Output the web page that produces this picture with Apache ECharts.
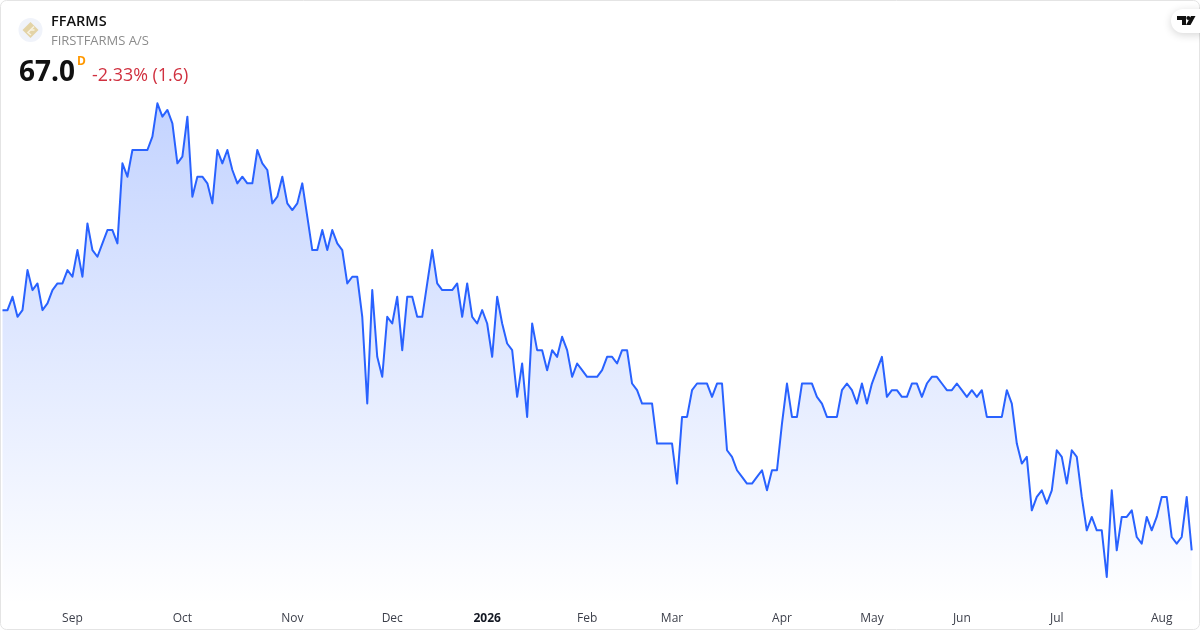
<!DOCTYPE html>
<html><head><meta charset="utf-8">
<style>html,body{margin:0;padding:0;background:#fff}#c{width:1200px;height:630px}</style>
<script src="https://cdn.jsdelivr.net/npm/echarts@6/dist/echarts.min.js"></script>
</head><body><div id="c"></div>
<script>
var prices = [
74.2,74.2,74.6,74.0,74.2,75.4,74.8,75.0,74.2,74.4,74.8,75.0,75.0,75.4,75.2,76.0,75.2,76.8,76.0,75.8,
76.2,76.6,76.6,76.2,78.6,78.2,79.0,79.0,79.0,79.0,79.4,80.4,80.0,80.2,79.8,78.6,78.8,80.0,77.6,78.2,
78.2,78.0,77.4,79.0,78.6,79.0,78.4,78.0,78.2,78.0,78.0,79.0,78.6,78.4,77.4,77.6,78.2,77.4,77.2,77.4,
78.0,77.0,76.0,76.0,76.6,76.0,76.6,76.2,76.0,75.0,75.2,75.2,74.0,71.4,74.8,72.8,72.2,74.0,73.8,74.6,
73.0,74.6,74.6,74.0,74.0,75.0,76.0,75.0,74.8,74.8,74.8,75.0,74.0,75.0,74.0,73.8,74.2,73.8,72.8,74.6,
73.8,73.2,73.0,71.6,72.6,71.0,73.8,73.0,73.0,72.4,73.0,72.8,73.4,73.0,72.2,72.6,72.4,72.2,72.2,72.2,
72.4,72.8,72.8,72.6,73.0,73.0,72.0,71.8,71.4,71.4,71.4,70.2,70.2,70.2,70.2,69.0,71.0,71.0,71.8,72.0,
72.0,72.0,71.6,72.0,72.0,70.0,69.8,69.4,69.2,69.0,69.0,69.2,69.4,68.8,69.4,69.4,70.8,72.0,71.0,71.0,
72.0,72.0,72.0,71.6,71.4,71.0,71.0,71.0,71.8,72.0,71.8,71.4,72.0,71.4,72.0,72.4,72.8,71.6,71.8,71.8,
71.6,71.6,72.0,72.0,71.6,72.0,72.2,72.2,72.0,71.8,71.8,72.0,71.8,71.6,71.8,71.6,71.8,71.0,71.0,71.0,
71.0,71.8,71.4,70.2,69.6,69.8,68.2,68.6,68.8,68.4,68.8,70.0,69.8,69.0,70.0,69.8,68.6,67.6,68.0,67.6,
67.6,66.2,68.8,67.0,68.0,68.0,68.2,67.4,67.2,68.0,67.6,68.0,68.6,68.6,67.4,67.2,67.4,68.6,67.0
];
var tickIndex = [14,36,58,78,97,117,134,156,174,192,211,232];
var tickLabels = ['Sep','Oct','Nov','Dec','2026','Feb','Mar','Apr','May','Jun','Jul','Aug'];
var boldLabels = ['2026'];
var categories = prices.map(function(_, i){ return String(i); });

var chart = echarts.init(document.getElementById('c'), null, {renderer:'canvas', width:1200, height:630});
var FONT = '"Open Sans", "Noto Sans", sans-serif';
chart.setOption({
  animation:false,
  backgroundColor:'#ffffff',
  grid:{left:2.5, right:8.3, top:100.3, height:504.4},
  xAxis:{
    type:'category', data:categories, boundaryGap:false,
    axisLine:{show:false}, axisTick:{show:false}, splitLine:{show:false},
    axisLabel:{
      show:true, margin:8, fontFamily:FONT, fontSize:12, color:'#3c3f4a', hideOverlap:false,
      interval:function(i){ return tickIndex.indexOf(i) >= 0; },
      formatter:function(v){
        var t = tickLabels[tickIndex.indexOf(+v)] || '';
        return boldLabels.indexOf(t) >= 0 ? '{b|'+t+'}' : t;
      },
      rich:{b:{fontFamily:FONT, fontSize:12, fontWeight:'bold', color:'#131722'}}
    }
  },
  yAxis:{type:'value', min:65.37, max:80.49, show:false, splitLine:{show:false}},
  series:[{
    type:'line', data:prices, symbol:'none', smooth:false,
    lineStyle:{color:'#2962FF', width:2, join:'round'},
    areaStyle:{opacity:1, color:new echarts.graphic.LinearGradient(0,0,0,1,[
      {offset:0,color:'rgba(41,98,255,0.28)'},
      {offset:1,color:'rgba(41,98,255,0)'}
    ])}
  }],
  graphic:[
    {type:'rect', shape:{x:0.5,y:0.5,width:1199,height:629,r:6}, style:{fill:'none',stroke:'#e4e4e4',lineWidth:1}, z:50},
    {type:'circle', shape:{cx:30.5,cy:30,r:12}, style:{fill:'#f0f3fa'}, z:50},
    {type:'polygon', shape:{points:[[30.5,22],[38.5,30],[30.5,38],[22.5,30]]}, style:{fill:'#e3d3a6'}, z:51},
    {type:'polyline', shape:{points:[[34,26.5],[28,32.5],[31,35]]}, style:{stroke:'#f7f1df',fill:'none',lineWidth:1.6}, z:52},
    {type:'polyline', shape:{points:[[34.5,30],[30.5,30]]}, style:{stroke:'#f7f1df',fill:'none',lineWidth:1.6}, z:52},
    {type:'text', x:51, y:22, style:{text:'FFARMS', font:'600 14.5px '+FONT, fill:'#111111', textVerticalAlign:'middle'}, z:50},
    {type:'text', x:51, y:41.5, style:{text:'FIRSTFARMS A/S', font:'13px '+FONT, fill:'#8c8c8c', textVerticalAlign:'middle'}, z:50},
    {type:'text', x:19, y:73, style:{text:'67.0', font:'700 28px '+FONT, fill:'#111111', textVerticalAlign:'middle'}, z:50},
    {type:'text', x:77, y:62, style:{text:'D', font:'700 12px '+FONT, fill:'#ff9800', textVerticalAlign:'middle'}, z:50},
    {type:'text', x:92, y:76, style:{text:'-2.33% (1.6)', font:'17.9px '+FONT, fill:'#d0303f', textVerticalAlign:'middle'}, z:50},
    {type:'rect', shape:{x:1171,y:9,width:40,height:24,r:12}, style:{fill:'#ffffff',shadowBlur:8,shadowColor:'rgba(0,0,0,0.16)',shadowOffsetY:2}, z:60},
    {type:'polygon', shape:{points:[[1177,16],[1186,16],[1186,25],[1182,25],[1182,20],[1177,20]]}, style:{fill:'#111111'}, z:61},
    {type:'circle', shape:{cx:1188.3,cy:18,r:2}, style:{fill:'#111111'}, z:61},
    {type:'polygon', shape:{points:[[1191,16],[1195.5,16],[1190.5,25],[1186,25]]}, style:{fill:'#111111'}, z:61}
  ]
});
</script></body></html>
